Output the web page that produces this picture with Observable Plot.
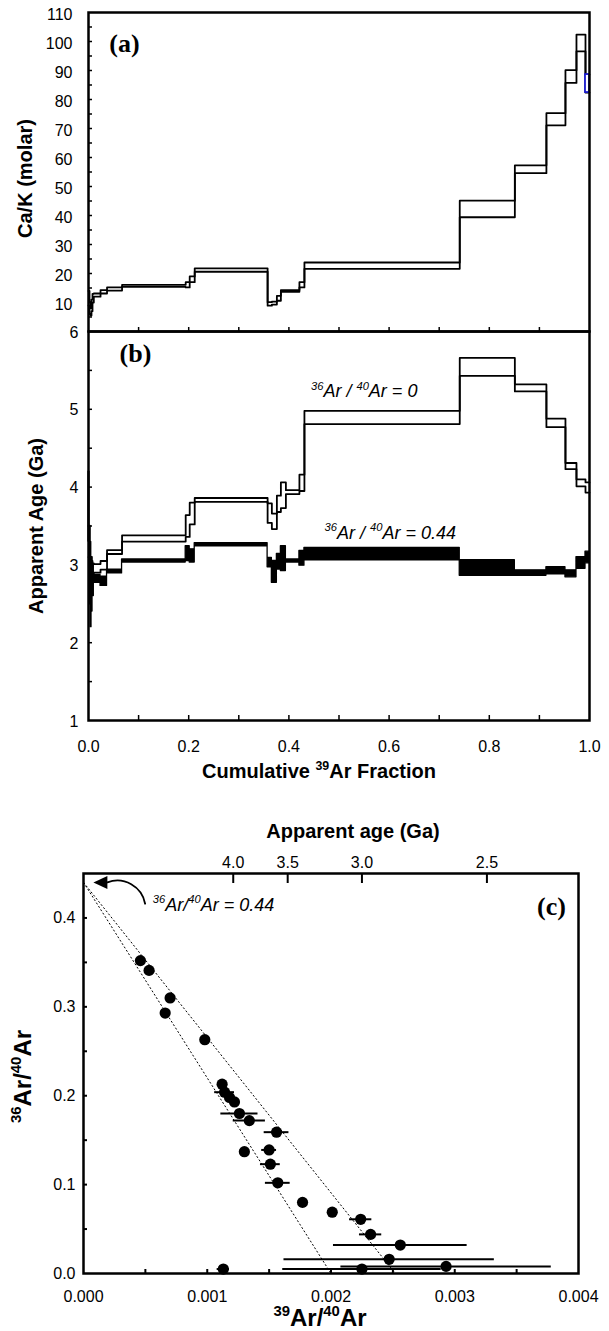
<!DOCTYPE html>
<html><head><meta charset="utf-8">
<script src="https://cdn.jsdelivr.net/npm/d3@7"></script>
<script src="https://cdn.jsdelivr.net/npm/@observablehq/plot@0.6"></script>
<style>
html,body{margin:0;padding:0;background:#fff;}
#wrap{position:relative;width:609px;height:1331px;overflow:hidden;background:#fff;}
#wrap svg{position:absolute;left:0;overflow:visible;background:transparent;}
</style></head>
<body><div id="wrap"></div>
<script>
// ---------- DATA ----------
// cumulative 39Ar fraction step boundaries (shared by panels a and b)
const stepBounds = [0, 0.002, 0.004, 0.006, 0.008, 0.0106, 0.024, 0.037, 0.067, 0.194, 0.202, 0.212, 0.3575, 0.366, 0.376, 0.384, 0.394, 0.421, 0.431, 0.741, 0.851, 0.914, 0.952, 0.974, 0.992, 1.0];
// (a) Ca/K lower / upper bounds per step
const caLo = [9, 6, 5.5, 7, 10, 12.0, 13.1, 14.1, 15.4, 15.2, 17.0, 20.6, 8.9, 9.3, 10.6, 13.7, 13.7, 15.2, 21.6, 39.4, 54.6, 71.1, 85.7, 96.6, 82.4];
const caHi = [14, 10, 8, 11, 13, 13.1, 14.3, 15.2, 16.1, 17.0, 19.0, 21.8, 10.1, 10.3, 12.3, 14.3, 14.3, 17.0, 23.8, 45.1, 57.3, 75.3, 90.1, 102.4, 88.6];
// (b) apparent age (Ga), trapped 36Ar/40Ar = 0 (open boxes)
const age0Lo = [3.10, 2.95, 2.85, 2.85, 2.88, 2.90, 2.94, 3.14, 3.30, 3.36, 3.52, 3.81, 3.54, 3.46, 3.68, 3.73, 3.91, 3.95, 4.81, 5.43, 5.23, 4.77, 4.23, 4.01, 3.93];
const age0Hi = [3.50, 3.30, 3.10, 3.05, 3.02, 3.01, 3.05, 3.19, 3.38, 3.64, 3.80, 3.86, 3.79, 3.66, 3.89, 4.06, 3.96, 4.16, 4.98, 5.66, 5.32, 4.88, 4.31, 4.10, 4.06];
// (b) apparent age (Ga), trapped 36Ar/40Ar = 0.44 (filled boxes)
const age44Lo = [3.30, 2.50, 2.20, 2.40, 2.60, 2.77, 2.73, 2.89, 3.03, 3.05, 3.03, 3.24, 2.97, 2.77, 2.94, 2.92, 3.03, 2.99, 3.06, 2.86, 2.86, 2.88, 2.84, 2.95, 3.02];
const age44Hi = [4.20, 3.50, 3.00, 3.10, 3.00, 2.87, 2.85, 2.94, 3.07, 3.24, 3.20, 3.28, 3.09, 3.05, 3.14, 3.24, 3.07, 3.18, 3.22, 3.06, 2.93, 2.97, 2.93, 3.10, 3.17];
// (c) isochron points
const isoX = [0.00046, 0.00053, 0.00070, 0.00066, 0.00098, 0.00112, 0.00114, 0.00118, 0.00122, 0.00126, 0.00134, 0.00156, 0.00130, 0.00150, 0.00151, 0.00157, 0.00177, 0.00201, 0.00224, 0.00232, 0.00256, 0.00247, 0.00293, 0.00225, 0.00113];
const isoY = [0.352, 0.341, 0.310, 0.293, 0.263, 0.213, 0.204, 0.198, 0.193, 0.180, 0.172, 0.159, 0.137, 0.139, 0.123, 0.102, 0.080, 0.069, 0.061, 0.044, 0.032, 0.016, 0.008, 0.005, 0.005];
const isoXerr = [0, 0, 0, 0, 0, 0, 0.00008, 0, 0, 0.00015, 0.00013, 0.00010, 0, 0.00006, 0.00008, 0.00010, 0, 0, 0.00009, 0.00009, 0.00054, 0.00085, 0.00085, 0.00064, 0.00005];
// (c) reference lines: trapped intercept and x intercepts
const trappedRatio = 0.44;
const isoXIntercepts = [0.00200, 0.00252];
// tick values / labels
const caTicks = [10, 20, 30, 40, 50, 60, 70, 80, 90, 100, 110];
const caMinor = [5, 10, 15, 20, 25, 30, 35, 40, 45, 50, 55, 60, 65, 70, 75, 80, 85, 90, 95, 100, 105];
const fracTicks = [0, 0.2, 0.4, 0.6, 0.8, 1.0];
const fracMinor = [0.1, 0.2, 0.3, 0.4, 0.5, 0.6, 0.7, 0.8, 0.9];
const ageTicks = [1, 2, 3, 4, 5, 6];
const ageMinor = [1.5, 2, 2.5, 3, 3.5, 4, 4.5, 5, 5.5];
const ratioTicks = [0, 0.1, 0.2, 0.3, 0.4];
const ratioMinor = [0.05, 0.1, 0.15, 0.2, 0.25, 0.3, 0.35, 0.4];
const x39Ticks = [0, 0.001, 0.002, 0.003, 0.004];
const x39Minor = [0.0005, 0.001, 0.0015, 0.002, 0.0025, 0.003, 0.0035];
const topAgePositions = [0.00121, 0.00165, 0.00225, 0.00326];
const topAgeLabels = ["4.0", "3.5", "3.0", "2.5"];
// annotations
const annotB = [
  {x: 0.444, y: 5.23, label: "^36Ar / ^40Ar = 0"},
  {x: 0.471, y: 3.41, label: "^36Ar / ^40Ar = 0.44"}
];
const annotC = {x: 0.00056, y: 0.4146, label: "^36Ar/^40Ar = 0.44"};
const arrowC = {x1: 0.000498, y1: 0.416, x2: 0.000193, y2: 0.44, tipX: 0.00008, tipY: 0.44};

// ---------- HELPERS ----------
const FONT = '"Liberation Sans", Arial, Helvetica, sans-serif';
const SERIF = '"Liberation Serif", "Times New Roman", Times, serif';
const W = 609;
const wrap = document.getElementById("wrap");

function stepRows(bounds, lo, hi) {
  const rows = lo.map((l, i) => ({x: bounds[i], lo: l, hi: hi[i]}));
  rows.push({x: bounds[bounds.length - 1], lo: lo[lo.length - 1], hi: hi[hi.length - 1]});
  return rows;
}

function supify(svg) {
  svg.querySelectorAll("text").forEach(t => {
    const s = t.textContent;
    if (!s.includes("^")) return;
    const fs = parseFloat(getComputedStyle(t).fontSize) || 16;
    let base = 0;
    const dyAttr = t.getAttribute("dy");
    if (dyAttr) {
      base = /em$/.test(dyAttr) ? parseFloat(dyAttr) * fs : parseFloat(dyAttr);
      t.removeAttribute("dy");
    }
    while (t.firstChild) t.removeChild(t.firstChild);
    const parts = s.split(/\^(\d+)/);
    let cur = 0, pending = base;
    parts.forEach((p, i) => {
      if (!p) return;
      const sup = i % 2 === 1;
      const target = sup ? -0.42 * fs : 0;
      const ts = document.createElementNS("http://www.w3.org/2000/svg", "tspan");
      ts.setAttribute("dy", (pending + target - cur).toFixed(2));
      pending = 0; cur = target;
      if (sup) ts.setAttribute("font-size", (0.62 * fs).toFixed(1));
      ts.textContent = p;
      t.appendChild(ts);
    });
  });
}

function place(svg, top) {
  svg.style.top = top + "px";
  wrap.appendChild(svg);
  supify(svg);
}

const baseStyle = {background: "transparent", overflow: "visible", fontFamily: FONT, fontSize: "16px", color: "black"};

// ---------- PANEL (a) ----------
const A = {ml: 88, mr: 20, mt: 12, mb: 0, h: 331};
const aW = W - A.ml - A.mr, aH = A.h - A.mt - A.mb;
const caRows = stepRows(stepBounds, caLo, caHi);
const nS = caLo.length;
const lastCa = [{x1: stepBounds[nS - 1], x2: stepBounds[nS], y1: caLo[nS - 1], y2: caHi[nS - 1]}];

const plotA = Plot.plot({
  width: W, height: A.h, marginLeft: A.ml, marginRight: A.mr, marginTop: A.mt, marginBottom: A.mb,
  x: {domain: [0, 1], axis: null},
  y: {domain: [0, 110]},
  style: baseStyle,
  marks: [
    Plot.lineY(caRows, {x: "x", y: "hi", curve: "step-after", stroke: "black", strokeWidth: 1.8}),
    Plot.lineY(caRows, {x: "x", y: "lo", curve: "step-after", stroke: "black", strokeWidth: 1.8}),
    Plot.rect(lastCa, {x1: "x1", x2: "x2", y1: "y1", y2: "y2", stroke: "#1c1cd0", fill: "white", strokeWidth: 1.8}),
    Plot.ruleY(caMinor, {y: d => d, insetRight: aW - 4, stroke: "black", strokeWidth: 1.5}),
    Plot.ruleX(fracMinor, {x: d => d, insetTop: aH - 4, stroke: "black", strokeWidth: 1.5}),
    Plot.axisY(caTicks, {tickSize: 0, tickPadding: 16, dy: 2, label: null, fontSize: 16, tickFormat: d => String(d)}),
    Plot.frame({stroke: "black", strokeWidth: 2.5}),
    Plot.text(["(a)"], {text: d => d, frameAnchor: "top-left", textAnchor: "middle", lineAnchor: "middle", dx: 36, dy: 31, fontFamily: SERIF, fontWeight: "bold", fontSize: 26}),
    Plot.text(["Ca/K (molar)"], {text: d => d, frameAnchor: "left", textAnchor: "middle", lineAnchor: "middle", dx: -63, dy: 6.5, rotate: -90, fontWeight: "bold", fontSize: 20})
  ]
});
place(plotA, 0);

// ---------- PANEL (b) ----------
const B = {ml: 88, mr: 20, mt: 11, mb: 60, h: 460};
const bW = W - B.ml - B.mr, bH = B.h - B.mt - B.mb;
const age0Rows = stepRows(stepBounds, age0Lo, age0Hi);
const age44Rows = stepRows(stepBounds, age44Lo, age44Hi);

const plotB = Plot.plot({
  width: W, height: B.h, marginLeft: B.ml, marginRight: B.mr, marginTop: B.mt, marginBottom: B.mb,
  x: {domain: [0, 1]},
  y: {domain: [1, 6]},
  style: baseStyle,
  marks: [
    Plot.areaY(age44Rows, {x: "x", y1: "lo", y2: "hi", curve: "step-after", fill: "black", stroke: "black", strokeWidth: 1.3}),
    Plot.lineY(age0Rows, {x: "x", y: "hi", curve: "step-after", stroke: "black", strokeWidth: 1.8}),
    Plot.lineY(age0Rows, {x: "x", y: "lo", curve: "step-after", stroke: "black", strokeWidth: 1.8}),
    Plot.ruleY(ageMinor, {y: d => d, insetRight: bW - 4, stroke: "black", strokeWidth: 1.5}),
    Plot.ruleX(fracMinor, {x: d => d, insetTop: bH - 5, stroke: "black", strokeWidth: 1.5}),
    Plot.axisY(ageTicks, {tickSize: 0, tickPadding: 10, dy: 1, label: null, fontSize: 16, tickFormat: d => String(d)}),
    Plot.axisX(fracTicks, {tickSize: 0, tickPadding: 20, label: null, fontSize: 16, tickFormat: d3.format(".1f")}),
    Plot.frame({stroke: "black", strokeWidth: 2.5}),
    Plot.text(annotB, {x: "x", y: "y", text: "label", textAnchor: "start", lineAnchor: "middle", fontStyle: "italic", fontSize: 18}),
    Plot.text(["(b)"], {text: d => d, frameAnchor: "top-left", textAnchor: "middle", lineAnchor: "middle", dx: 47, dy: 22, fontFamily: SERIF, fontWeight: "bold", fontSize: 26}),
    Plot.text(["Apparent Age (Ga)"], {text: d => d, frameAnchor: "left", textAnchor: "middle", lineAnchor: "middle", dx: -52, dy: 0, rotate: -90, fontWeight: "bold", fontSize: 20}),
    Plot.text(["Cumulative ^39Ar Fraction"], {text: d => d, frameAnchor: "bottom", textAnchor: "middle", lineAnchor: "middle", dx: -20, dy: 51, fontWeight: "bold", fontSize: 20})
  ]
});
place(plotB, 320);

// ---------- PANEL (c) ----------
const C = {ml: 83, mr: 31, mt: 93, mb: 58, h: 551};
const cW = W - C.ml - C.mr, cH = C.h - C.mt - C.mb;
const isoPts = isoX.map((x, i) => ({x, y: isoY[i], err: isoXerr[i]}));
const isoLines = isoXIntercepts.map(xi => ({x1: 0, y1: trappedRatio, x2: xi, y2: 0}));
const ageLabelMap = new Map(topAgePositions.map((p, i) => [p, topAgeLabels[i]]));
const leftTriangle = {
  draw(ctx, size) {
    const r = Math.sqrt(size / Math.PI);
    ctx.moveTo(0, 0);
    ctx.lineTo(2.8 * r, -1.3 * r);
    ctx.lineTo(2.8 * r, 1.3 * r);
    ctx.closePath();
  }
};

const plotC = Plot.plot({
  width: W, height: C.h, marginLeft: C.ml, marginRight: C.mr, marginTop: C.mt, marginBottom: C.mb,
  x: {domain: [0, 0.004]},
  y: {domain: [0, 0.45]},
  style: baseStyle,
  marks: [
    Plot.link(isoLines, {x1: "x1", y1: "y1", x2: "x2", y2: "y2", stroke: "black", strokeWidth: 1, strokeDasharray: "2,2"}),
    Plot.ruleY(isoPts.filter(d => d.err > 0), {y: "y", x1: d => d.x - d.err, x2: d => d.x + d.err, stroke: "black", strokeWidth: 2}),
    Plot.dot(isoPts, {x: "x", y: "y", r: 5.6, fill: "black", stroke: "none"}),
    Plot.arrow([arrowC], {x1: "x1", y1: "y1", x2: "x2", y2: "y2", bend: -50, headLength: 0, stroke: "black", strokeWidth: 1.8}),
    Plot.dot([arrowC], {x: "tipX", y: "tipY", symbol: leftTriangle, r: 5, fill: "black", stroke: "none"}),
    Plot.ruleY(ratioMinor, {y: d => d, insetRight: cW - 4, stroke: "black", strokeWidth: 2}),
    Plot.ruleX(x39Minor, {x: d => d, insetTop: cH - 4, stroke: "black", strokeWidth: 2}),
    Plot.ruleX(topAgePositions, {x: d => d, insetBottom: cH - 10, stroke: "black", strokeWidth: 2}),
    Plot.axisY(ratioTicks, {tickSize: 0, tickPadding: 8, label: null, fontSize: 16, tickFormat: d3.format(".1f")}),
    Plot.axisX(x39Ticks, {tickSize: 0, tickPadding: 17, label: null, fontSize: 16, tickFormat: d3.format(".3f")}),
    Plot.axisX(topAgePositions, {anchor: "top", tickSize: 0, tickPadding: 6, label: null, fontSize: 16, tickFormat: d => ageLabelMap.get(d)}),
    Plot.frame({stroke: "black", strokeWidth: 2.5}),
    Plot.text([annotC], {x: "x", y: "y", text: "label", textAnchor: "start", lineAnchor: "middle", fontStyle: "italic", fontSize: 18}),
    Plot.text(["(c)"], {text: d => d, frameAnchor: "top-right", textAnchor: "middle", lineAnchor: "middle", dx: -27, dy: 33, fontFamily: SERIF, fontWeight: "bold", fontSize: 26}),
    Plot.text(["Apparent age (Ga)"], {text: d => d, frameAnchor: "top", textAnchor: "middle", lineAnchor: "middle", dx: 22, dy: -42, fontWeight: "bold", fontSize: 20}),
    Plot.text(["^39Ar/^40Ar"], {text: d => d, frameAnchor: "bottom", textAnchor: "middle", lineAnchor: "middle", dx: -11, dy: 45, fontWeight: "bold", fontSize: 24}),
    Plot.text(["^36Ar/^40Ar"], {text: d => d, frameAnchor: "left", textAnchor: "middle", lineAnchor: "middle", dx: -60, dy: 3, rotate: -90, fontWeight: "bold", fontSize: 24})
  ]
});
place(plotC, 780);
</script>
</body></html>
